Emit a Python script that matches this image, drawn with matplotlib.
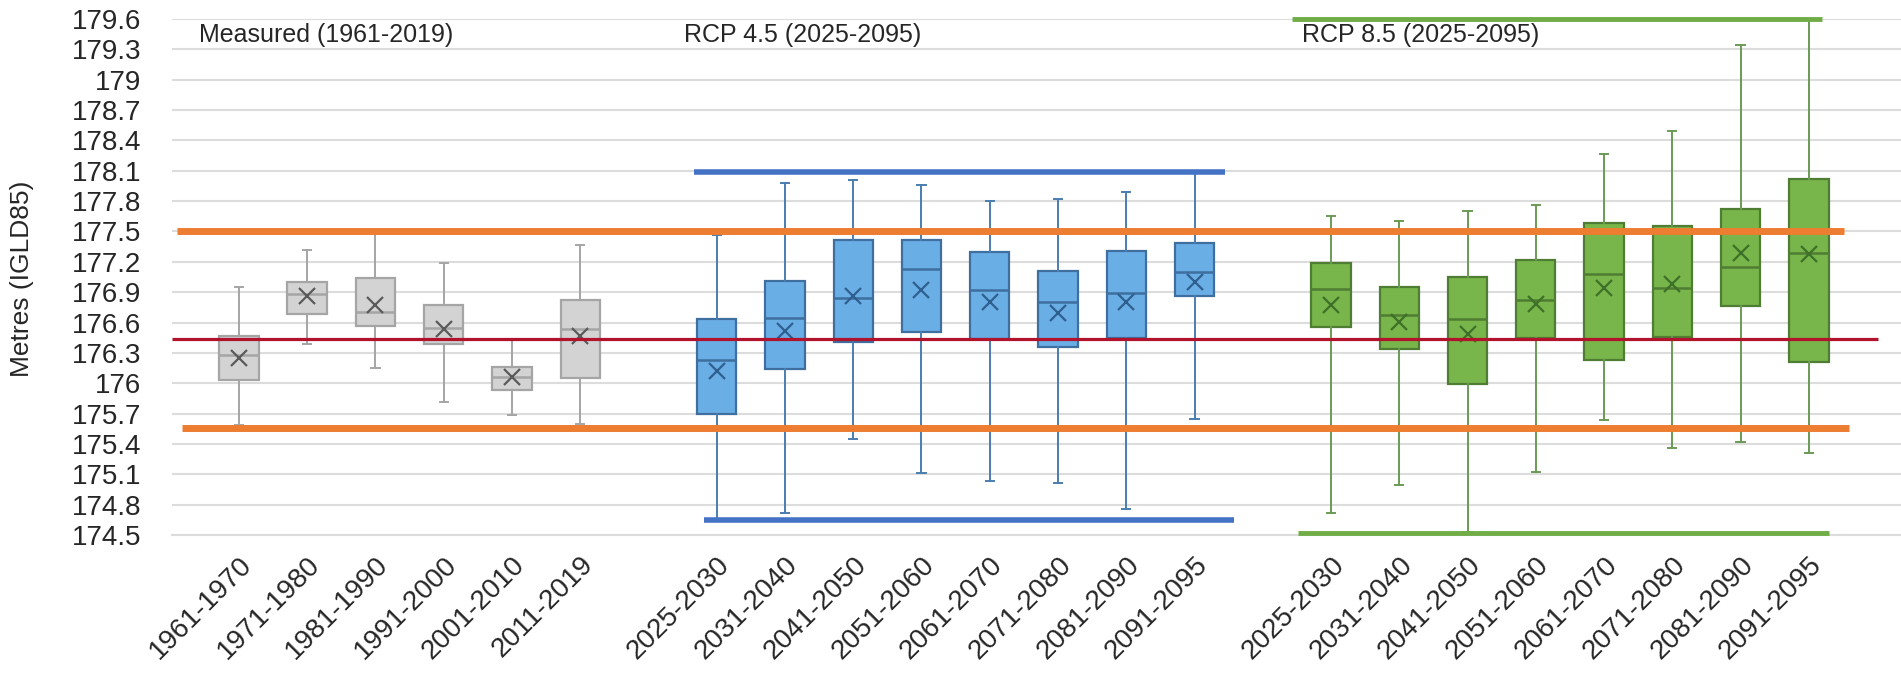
import matplotlib
matplotlib.use("Agg")
import matplotlib.pyplot as plt

plt.rcParams['font.family'] = ['Liberation Sans', 'DejaVu Sans']

# ---------------- data ----------------
measured_labels = ["1961-1970", "1971-1980", "1981-1990", "1991-2000", "2001-2010", "2011-2019"]
measured_whislo = [175.59, 176.39, 176.15, 175.81, 175.69, 175.60]
measured_q1     = [176.03, 176.68, 176.57, 176.39, 175.93, 176.05]
measured_med    = [176.28, 176.88, 176.70, 176.55, 176.06, 176.54]
measured_q3     = [176.47, 177.00, 177.04, 176.77, 176.16, 176.82]
measured_whishi = [176.95, 177.32, 177.48, 177.19, 176.44, 177.37]
measured_mean   = [176.25, 176.86, 176.77, 176.54, 176.06, 176.47]

rcp_labels = ["2025-2030", "2031-2040", "2041-2050", "2051-2060",
              "2061-2070", "2071-2080", "2081-2090", "2091-2095"]

rcp45_whislo = [174.64, 174.72, 175.45, 175.11, 175.03, 175.01, 174.76, 175.65]
rcp45_q1     = [175.70, 176.14, 176.41, 176.51, 176.44, 176.36, 176.45, 176.86]
rcp45_med    = [176.23, 176.64, 176.84, 177.13, 176.92, 176.80, 176.89, 177.10]
rcp45_q3     = [176.63, 177.01, 177.42, 177.42, 177.30, 177.11, 177.31, 177.39]
rcp45_whishi = [177.47, 177.98, 178.01, 177.96, 177.80, 177.82, 177.89, 178.08]
rcp45_mean   = [176.12, 176.52, 176.86, 176.92, 176.80, 176.69, 176.80, 177.00]

rcp85_whislo = [174.72, 174.99, 174.53, 175.12, 175.64, 175.36, 175.42, 175.31]
rcp85_q1     = [176.56, 176.34, 175.99, 176.45, 176.23, 176.46, 176.76, 176.21]
rcp85_med    = [176.93, 176.67, 176.63, 176.82, 177.08, 176.94, 177.15, 177.29]
rcp85_q3     = [177.19, 176.95, 177.05, 177.22, 177.58, 177.55, 177.72, 178.02]
rcp85_whishi = [177.65, 177.60, 177.70, 177.76, 178.27, 178.49, 179.34, 179.59]
rcp85_mean   = [176.77, 176.61, 176.49, 176.78, 176.94, 176.98, 177.29, 177.28]

group_titles = ["Measured (1961-2019)", "RCP 4.5 (2025-2095)", "RCP 8.5 (2025-2095)"]

orange_upper = 177.50
orange_lower = 175.56
red_level = 176.44
blue_upper = 178.09
blue_lower = 174.65
green_upper = 179.60
green_lower = 174.52

y_ticks = [174.5, 174.8, 175.1, 175.4, 175.7, 176.0, 176.3, 176.6, 176.9,
           177.2, 177.5, 177.8, 178.1, 178.4, 178.7, 179.0, 179.3, 179.6]
y_label = "Metres (IGLD85)"

# ---------------- layout ----------------
W, H = 1901, 678
fig = plt.figure(figsize=(W / 100, H / 100), dpi=100)
left_px, right_px, top_px, bottom_px = 172, 1901, 19, 535
ax = fig.add_axes([left_px / W, (H - bottom_px) / H,
                   (right_px - left_px) / W, (bottom_px - top_px) / H])

pos_meas = list(range(0, 6))
pos_45 = list(range(7, 15))
pos_85 = list(range(16, 24))


def stats(labels, lo, q1, med, q3, hi, mean):
    return [dict(label=l, whislo=a, q1=b, med=c, q3=d, whishi=e, mean=f, fliers=[])
            for l, a, b, c, d, e, f in zip(labels, lo, q1, med, q3, hi, mean)]


def draw(st, pos, face, edge, whisk, meanc):
    ax.bxp(st, positions=pos, widths=0.576, capwidths=0.12, patch_artist=True,
           showmeans=True, meanline=False, showfliers=False, manage_ticks=False,
           boxprops=dict(facecolor=face, edgecolor=edge, linewidth=1.6),
           medianprops=dict(color=edge, linewidth=1.8),
           whiskerprops=dict(color=whisk, linewidth=1.4),
           capprops=dict(color=whisk, linewidth=1.4),
           meanprops=dict(marker='x', markeredgecolor=meanc, markerfacecolor=meanc,
                          markersize=11, markeredgewidth=1.6),
           zorder=3)


draw(stats(measured_labels, measured_whislo, measured_q1, measured_med,
           measured_q3, measured_whishi, measured_mean),
     pos_meas, '#d3d3d3', '#a5a5a5', '#a5a5a5', '#5a5a5a')
draw(stats(rcp_labels, rcp45_whislo, rcp45_q1, rcp45_med, rcp45_q3,
           rcp45_whishi, rcp45_mean),
     pos_45, '#6aaee6', '#3e6f9e', '#4a7db0', '#2f5f8f')
draw(stats(rcp_labels, rcp85_whislo, rcp85_q1, rcp85_med, rcp85_q3,
           rcp85_whishi, rcp85_mean),
     pos_85, '#78b54a', '#4f7d33', '#6a9a55', '#3d7028')

# reference shapes
ax.plot([pos_meas[0] - 0.91, pos_85[-1] + 0.51], [orange_upper] * 2,
        color='#ed7d31', lw=5, solid_capstyle='butt', zorder=5)
ax.plot([pos_meas[0] - 0.84, pos_85[-1] + 0.59], [orange_lower] * 2,
        color='#ed7d31', lw=5, solid_capstyle='butt', zorder=5)
ax.plot([pos_meas[0] - 0.98, pos_85[-1] + 1.01], [red_level] * 2,
        color='#b0132b', lw=2.3, solid_capstyle='butt', zorder=5)
ax.plot([pos_45[0] - 0.33, pos_45[-1] + 0.44], [blue_upper] * 2,
        color='#4472c4', lw=4, solid_capstyle='butt', zorder=5)
ax.plot([pos_45[0] - 0.19, pos_45[-1] + 0.58], [blue_lower] * 2,
        color='#4472c4', lw=4, solid_capstyle='butt', zorder=5)
ax.plot([pos_85[0] - 0.57, pos_85[-1] + 0.19], [green_upper] * 2,
        color='#70ad47', lw=3.5, solid_capstyle='butt', zorder=5, clip_on=False)
ax.plot([pos_85[0] - 0.49, pos_85[-1] + 0.29], [green_lower] * 2,
        color='#70ad47', lw=3.5, solid_capstyle='butt', zorder=5, clip_on=False)

# group titles
title_y = 179.44
for txt, x in zip(group_titles, [pos_meas[0] - 0.59, pos_45[0] - 0.48, pos_85[0] - 0.43]):
    ax.text(x, title_y, txt, ha='left', va='center', fontsize=18, color='#262626', zorder=6)

# axes
ax.set_xlim(-0.98, 24.35)
ax.set_ylim(174.5, 179.6)
ax.set_yticks(y_ticks)
ax.set_yticklabels([f"{v:.1f}".rstrip('0').rstrip('.') for v in y_ticks],
                   fontsize=20, color='#262626')
ax.set_xticks(pos_meas + pos_45 + pos_85)
ax.set_xticklabels(measured_labels + rcp_labels + rcp_labels, rotation=45,
                   ha='right', rotation_mode='anchor', fontsize=20, color='#262626')
ax.tick_params(axis='both', length=0)
ax.tick_params(axis='y', pad=22)
ax.tick_params(axis='x', pad=12)
ax.grid(axis='y', color='#dcdcdc', lw=1.5, zorder=0)
ax.set_axisbelow(True)
for s in ['top', 'left', 'right']:
    ax.spines[s].set_visible(False)
ax.spines['bottom'].set_color('#dcdcdc')
ax.spines['bottom'].set_linewidth(1.5)
fig.text(22 / W, 1 - 279 / H, y_label, rotation=90, ha='center', va='center',
         fontsize=19, color='#262626')

fig.savefig("out.png", dpi=100, facecolor='white')
